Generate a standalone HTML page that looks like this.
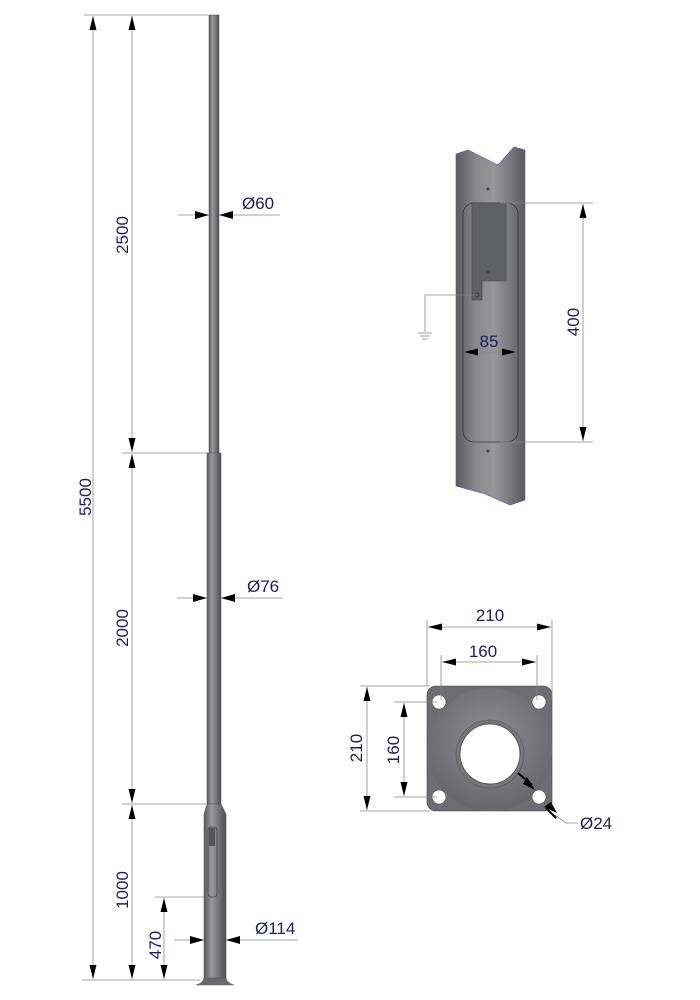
<!DOCTYPE html>
<html><head><meta charset="utf-8"><style>
html,body{margin:0;padding:0;background:#fff;}
svg{display:block;}
text{font-family:"Liberation Sans",Arial,sans-serif;fill:#1d1d5c;font-size:17px;}
</style></head><body>
<svg width="700" height="1000" viewBox="0 0 700 1000" xmlns="http://www.w3.org/2000/svg">
<defs>
<linearGradient id="pg" x1="0" x2="1" y1="0" y2="0">
<stop offset="0" stop-color="#5a5a5e"/><stop offset="0.35" stop-color="#9a9a9e"/><stop offset="0.6" stop-color="#7b7b80"/><stop offset="1" stop-color="#4e4e52"/>
</linearGradient>
<linearGradient id="dg" x1="0" x2="1" y1="0" y2="0">
<stop offset="0" stop-color="#5c5c60"/><stop offset="0.3" stop-color="#8a8a8e"/><stop offset="0.55" stop-color="#97979b"/><stop offset="0.8" stop-color="#77777b"/><stop offset="1" stop-color="#5a5a5e"/>
</linearGradient>
<radialGradient id="cone" cx="0.5" cy="0.4" r="0.6">
<stop offset="0" stop-color="#8e8e92"/><stop offset="1" stop-color="#67676b"/>
</radialGradient>
<clipPath id="sq"><rect x="427" y="686" width="125" height="125" rx="9"/></clipPath>
<marker id="a" viewBox="0 0 14 7" refX="14" refY="3.5" markerWidth="14" markerHeight="7" orient="auto-start-reverse" markerUnits="userSpaceOnUse"><path d="M0,0 L14,3.5 L0,7 Z" fill="#000"/></marker>
</defs>

<g stroke="#888" stroke-width="0.8" fill="none">
<line x1="84" y1="15" x2="209" y2="15"/>
<line x1="122" y1="453" x2="208" y2="453"/>
<line x1="122" y1="804" x2="206" y2="804"/>
<line x1="155" y1="897" x2="213" y2="897"/>
<line x1="82" y1="980" x2="200" y2="980"/>
<line x1="178" y1="215" x2="280" y2="215"/>
<line x1="177" y1="598" x2="283" y2="598"/>
<line x1="174" y1="940" x2="298" y2="940"/>
</g>
<g stroke="#888" stroke-width="0.8" marker-start="url(#a)" marker-end="url(#a)">
<line x1="93" y1="16" x2="93" y2="979"/>
<line x1="132" y1="16" x2="132" y2="452"/>
<line x1="132" y1="454" x2="132" y2="803"/>
<line x1="132" y1="805" x2="132" y2="979"/>
<line x1="164" y1="898" x2="164" y2="979"/>
</g>
<g fill="#000">
<path d="M195,211 L209,215 L195,219Z"/><path d="M233,211 L219,215 L233,219Z"/>
<path d="M193,594 L207,598 L193,602Z"/><path d="M235,594 L221,598 L235,602Z"/>
<path d="M190,936 L204,940 L190,944Z"/><path d="M240,936 L226,940 L240,944Z"/>
</g>

<rect x="209" y="15" width="10" height="438" fill="url(#pg)" stroke="#555" stroke-width="0.5"/>
<rect x="207" y="453" width="14" height="351" fill="url(#pg)" stroke="#555" stroke-width="0.5"/>
<path d="M207,804 L204,814 L204,980 L226,980 L226,814 L221,804 Z" fill="url(#pg)" stroke="#555" stroke-width="0.5"/>
<path d="M204,978 Q203,983 196,985 L234,985 Q227,983 226,978 Z" fill="#6a6a6e" stroke="#555" stroke-width="0.5"/>
<rect x="208" y="827" width="9" height="70" rx="3" fill="none" stroke="#444" stroke-width="0.7"/>
<rect x="209" y="828" width="6" height="18" fill="#55555a"/>

<text transform="translate(91,497) rotate(-90)" text-anchor="middle">5500</text>
<text transform="translate(128,235) rotate(-90)" text-anchor="middle">2500</text>
<text transform="translate(128,628) rotate(-90)" text-anchor="middle">2000</text>
<text transform="translate(128,890) rotate(-90)" text-anchor="middle">1000</text>
<text transform="translate(161,945) rotate(-90)" text-anchor="middle">470</text>
<text x="242" y="209">Ø60</text>
<text x="247" y="592">Ø76</text>
<text x="255" y="934">Ø114</text>

<path d="M456,154 L468,150 L498,165 L514,147 L525,150 L525,500 L510,505 L485,494 L456,486 Z" fill="url(#dg)" stroke="#5a5a9a" stroke-width="0.6"/>
<rect x="463" y="203" width="55" height="239" rx="11" fill="none" stroke="#333" stroke-width="0.8"/>
<path d="M472,203 L506,203 L506,281 L482,281 L482,300 L472,300 Z" fill="#5f5f66" stroke="#444" stroke-width="0.6"/>
<circle cx="488" cy="189" r="1.5" fill="#444"/>
<circle cx="488" cy="272" r="1.3" fill="#444"/>
<circle cx="488" cy="451" r="1.5" fill="#444"/>
<circle cx="477" cy="295" r="2" fill="none" stroke="#333" stroke-width="0.7"/>
<g stroke="#888" stroke-width="0.8" fill="none">
<path d="M477,295 L425,295 L425,332"/>
<line x1="418" y1="333" x2="432" y2="333"/><line x1="420" y1="336" x2="430" y2="336"/><line x1="422" y1="339" x2="428" y2="339"/>
<line x1="500" y1="203" x2="593" y2="203"/>
<line x1="500" y1="442" x2="593" y2="442"/>
</g>
<line x1="583" y1="204" x2="583" y2="441" stroke="#888" stroke-width="0.8" marker-start="url(#a)" marker-end="url(#a)"/>
<line x1="464" y1="352" x2="516" y2="352" stroke="#888" stroke-width="0.8" marker-start="url(#a)" marker-end="url(#a)"/>
<text transform="translate(579,322) rotate(-90)" text-anchor="middle">400</text>
<text x="489" y="347" text-anchor="middle">85</text>

<rect x="427" y="686" width="125" height="125" rx="9" fill="#6d6d72" stroke="#444" stroke-width="0.6"/>
<circle cx="490" cy="750" r="62" fill="url(#cone)" clip-path="url(#sq)"/>
<circle cx="490" cy="754" r="34" fill="#77777b" stroke="#555" stroke-width="0.6"/>
<circle cx="490" cy="754" r="30" fill="#fff" stroke="#444" stroke-width="0.8"/>
<g fill="#fff" stroke="#444" stroke-width="0.6">
<circle cx="439" cy="702" r="7"/><circle cx="539" cy="702" r="7"/>
<circle cx="439" cy="797" r="7"/><circle cx="539" cy="797" r="7"/>
</g>
<g stroke="#888" stroke-width="0.8" fill="none">
<line x1="427" y1="620" x2="427" y2="686"/><line x1="552" y1="620" x2="552" y2="700"/>
<line x1="441" y1="655" x2="441" y2="700"/><line x1="537" y1="655" x2="537" y2="700"/>
<line x1="360" y1="686" x2="430" y2="686"/><line x1="360" y1="811" x2="430" y2="811"/>
<line x1="394" y1="702" x2="437" y2="702"/><line x1="394" y1="797" x2="437" y2="797"/>
<path d="M555,815 L566,823 L578,823"/>
</g>
<g stroke="#888" stroke-width="0.8" marker-start="url(#a)" marker-end="url(#a)">
<line x1="428" y1="627" x2="551" y2="627"/>
<line x1="442" y1="662" x2="536" y2="662"/>
<line x1="367" y1="687" x2="367" y2="810"/>
<line x1="404" y1="703" x2="404" y2="796"/>
</g>
<path d="M518,773 L532,785 M546,808 L556,818" stroke="#000" stroke-width="2"/>
<path d="M527,777 L535,790 L523,784Z M551,802 L557,813 L544,807Z" fill="#000"/>
<text x="490" y="621" text-anchor="middle">210</text>
<text x="483" y="657" text-anchor="middle">160</text>
<text transform="translate(362,748) rotate(-90)" text-anchor="middle">210</text>
<text transform="translate(399,750) rotate(-90)" text-anchor="middle">160</text>
<text x="580" y="829">Ø24</text>
</svg>
</body></html>
